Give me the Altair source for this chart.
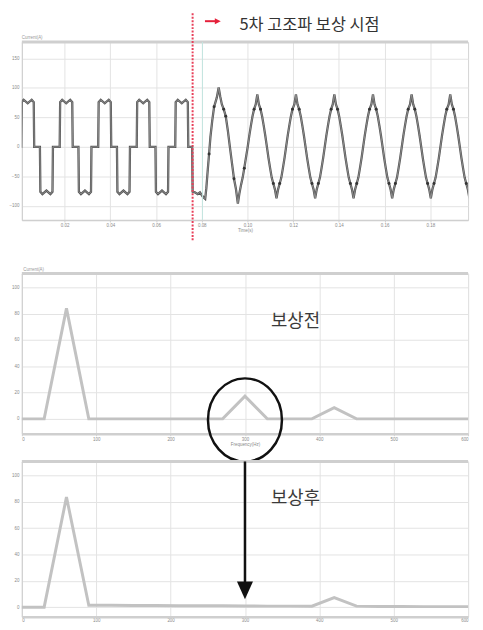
import altair as alt
import pandas as pd

# ---------------- top panel: current waveform (time in ms, current in A) ----------------
pre_t = [0, 1.0, 1.2, 2.1, 3.85, 5.6, 6.5, 6.7, 9.2, 9.4, 10.3, 12.05, 13.8, 14.7, 14.9,
         17.85, 18.05, 18.95, 20.7, 22.45, 23.35, 23.55, 26.05, 26.25, 27.15, 28.9, 30.65, 31.55, 31.75,
         34.7, 34.9, 35.8, 37.55, 39.3, 40.2, 40.4, 42.9, 43.1, 44.0, 45.75, 47.5, 48.4, 48.6,
         51.55, 51.75, 52.65, 54.4, 56.15, 57.05, 57.25, 59.75, 59.95, 60.85, 62.6, 64.35, 65.25, 65.45,
         68.4, 68.6, 69.5, 71.25, 73.0, 73.9, 74.1, 75.8]
pre_v = [0, 0, 76, 80, 74, 80, 76, 0, 0, -76, -80, -74, -80, -76, 0,
         0, 76, 80, 74, 80, 76, 0, 0, -76, -80, -74, -80, -76, 0,
         0, 76, 80, 74, 80, 76, 0, 0, -76, -80, -74, -80, -76, 0,
         0, 76, 80, 74, 80, 76, 0, 0, -76, -80, -74, -80, -76, 0,
         0, 76, 80, 74, 80, 76, 0, 0]

trans_t = [76.0, 77.0, 78.2, 79.2, 80.4, 81.5, 82.0, 82.6, 83.2, 83.8, 84.6, 85.4, 86.6, 87.4, 88.1,
           88.8, 89.6, 90.5, 91.4, 92.3, 93.3, 94.1, 94.9, 95.8, 96.5, 97.2, 97.9, 98.6, 99.3, 100.1,
           100.8, 101.5, 102.2, 102.9, 103.6]
trans_v = [-76, -77, -80, -77, -84, -88, -70, -40, -12, 17, 45, 68, 84, 101, 85,
           72, 64, 52, 28, 0, -30, -54, -70, -96, -78, -64, -52, -36, -19, 0,
           19, 36, 52, 64, 72]

steady_t = [104.3, 105.0, 105.7, 106.4, 107.1, 107.8, 108.5, 109.2, 109.9, 110.6, 111.3, 112.0,
            112.7, 113.4, 114.1, 114.8, 115.5, 116.2, 116.9, 117.6, 118.3, 119.0, 119.7, 120.5,
            121.2, 121.9, 122.6, 123.3, 124.0, 124.7, 125.4, 126.1, 126.8, 127.5, 128.2, 128.9,
            129.6, 130.3, 131.0, 131.7, 132.4, 133.1, 133.8, 134.5, 135.2, 135.9, 136.6, 137.3,
            138.0, 138.7, 139.4, 140.1, 140.8, 141.5, 142.2, 142.9, 143.6, 144.3, 145.0, 145.7,
            146.4, 147.1, 147.8, 148.5, 149.2, 149.9, 150.6, 151.3, 152.0, 152.7, 153.4, 154.2,
            154.9, 155.6, 156.3, 157.0, 157.7, 158.4, 159.1, 159.8, 160.5, 161.2, 161.9, 162.6,
            163.3, 164.0, 164.7, 165.4, 166.1, 166.8, 167.5, 168.2, 168.9, 169.6, 170.3, 171.1,
            171.8, 172.5, 173.2, 173.9, 174.6, 175.3, 176.0, 176.7, 177.4, 178.1, 178.8, 179.5,
            180.2, 180.9, 181.6, 182.3, 183.0, 183.7, 184.4, 185.1, 185.8, 186.5, 187.2, 188.0,
            188.7, 189.4, 190.1, 190.8, 191.5, 192.2, 192.9, 193.6, 194.3, 195.0, 195.7, 196.4,
            197.1]
steady_v = [89, 72, 64, 52, 36, 19, 0, -19, -36, -52, -62, -72,
            -87, -72, -62, -52, -36, -19, 0, 19, 36, 52, 64, 72,
            89, 72, 64, 52, 36, 19, 0, -19, -36, -52, -62, -72,
            -87, -72, -62, -52, -36, -19, 0, 19, 36, 52, 64, 72,
            89, 72, 64, 52, 36, 19, 0, -19, -36, -52, -62, -72,
            -87, -72, -62, -52, -36, -19, 0, 19, 36, 52, 64, 72,
            89, 72, 64, 52, 36, 19, 0, -19, -36, -52, -62, -72,
            -87, -72, -62, -52, -36, -19, 0, 19, 36, 52, 64, 72,
            89, 72, 64, 52, 36, 19, 0, -19, -36, -52, -62, -72,
            -87, -72, -62, -52, -36, -19, 0, 19, 36, 52, 64, 72,
            89, 72, 64, 52, 36, 19, 0, -19, -36, -52, -62, -72,
            -87]

dot_t = [83.2, 85.4, 89.6, 90.5, 94.1, 98.6, 102.9, 105.7, 111.3, 114.1, 119.7, 122.6, 128.2, 131.0,
         136.6, 139.4, 145.0, 147.8, 153.4, 156.3, 161.9, 164.7, 170.3, 173.2, 178.8, 181.6,
         187.2, 190.1, 195.7]
dot_v = [-12, 68, 64, 52, -54, -36, 64, 64, -62, -62, 64, 64, -62, -62,
         64, 64, -62, -62, 64, 64, -62, -62, 64, 64, -62, -62,
         64, 64, -62]

time_domain = [1.3, 196.5]
time_ticks = [20, 40, 60, 80, 100, 120, 140, 160, 180]
amp_ticks = [-100, -50, 0, 50, 100, 150]
amp_domain = [-124, 178]
switch_ms = 76.0
cursor_ms = 80.3

# ---------------- spectra (frequency in Hz) ----------------
freq_hz = [0, 30, 60, 90, 120, 150, 180, 210, 240, 270, 300, 330, 360, 390, 420, 450, 480, 510, 540, 570, 600]
spec_before = [0, 0, 84, 0, 0, 0, 0, 0, 0, 0, 17.3, 0, 0, 0, 8.5, 0, 0, 0, 0, 0, 0]
spec_after = [0, 0, 83.5, 1.5, 1.4, 1.3, 1.2, 1.1, 1.0, 1.0, 0.9, 0.8, 0.8, 0.7, 7.3, 0.8, 0.5, 0.5, 0.4, 0.4, 0.4]
freq_ticks = [0, 100, 200, 300, 400, 500, 600]
mag_ticks = [0, 20, 40, 60, 80, 100]
mag_domain_mid = [-11.3, 110.5]
mag_domain_bot = [-7.3, 110.5]

KFONT = "Noto Sans CJK KR"
one = pd.DataFrame({"k": [0]})

# ---------------- helpers ----------------
def make_enc(chan, scale, axis):
    def f(field=None, datum=None):
        if chan == "x":
            if field is not None:
                return alt.X(field, type="quantitative", scale=scale, axis=axis)
            return alt.XDatum(datum, type="quantitative", scale=scale, axis=axis)
        if field is not None:
            return alt.Y(field, type="quantitative", scale=scale, axis=axis)
        return alt.YDatum(datum, type="quantitative", scale=scale, axis=axis)
    return f

# ---------------- top chart ----------------
tx = make_enc("x", alt.Scale(domain=time_domain, nice=False, zero=False),
              alt.Axis(values=time_ticks, title="Time(s)", grid=True, tickSize=2, labelFlush=True,
                       labelExpr="format(datum.value/1000, '.2f')",
                       labelPadding=1, titlePadding=0, domainWidth=1.5))
ty = make_enc("y", alt.Scale(domain=amp_domain, nice=False, zero=False),
              alt.Axis(values=amp_ticks, title=None, grid=True, ticks=False, labelPadding=3))

df_wave = pd.DataFrame({"t": pre_t + trans_t + steady_t, "v": pre_v + trans_v + steady_v})
df_dots = pd.DataFrame({"t": dot_t, "v": dot_v})

wave_outer = alt.Chart(df_wave).mark_line(color="#555555", strokeWidth=2.3, clip=True).encode(
    x=tx("t"), y=ty("v"))
wave_inner = alt.Chart(df_wave).mark_line(color="#9a9a9a", strokeWidth=0.8, clip=True).encode(
    x=tx("t"), y=ty("v"))
dots = alt.Chart(df_dots).mark_circle(color="#333333", size=9, opacity=1).encode(x=tx("t"), y=ty("v"))
frame_top = alt.Chart(one).mark_rule(color="#cfcfcf", strokeWidth=3).encode(
    x=tx(datum=time_domain[0]), x2=alt.X2Datum(time_domain[1]), y=ty(datum=amp_domain[1]))
cursor = alt.Chart(one).mark_rule(color="#c3e6e0", strokeWidth=1).encode(
    x=tx(datum=cursor_ms), y=ty(datum=amp_domain[1]), y2=alt.Y2Datum(amp_domain[0]))
switch = alt.Chart(one).mark_rule(color="#e8405a", strokeWidth=2, strokeDash=[2, 1.5]).encode(
    x=tx(datum=switch_ms), y=ty(datum=226.6), y2=alt.Y2Datum(-159))
arrow_shaft = alt.Chart(one).mark_rule(color="#e5203a", strokeWidth=2).encode(
    x=tx(datum=81.4), x2=alt.X2Datum(86.0), y=ty(datum=213.2))
arrow_head = alt.Chart(one).mark_point(shape="M -1 -1 L 1 0 L -1 1 Z", size=36, filled=True,
                                       color="#e5203a", opacity=1).encode(x=tx(datum=87.0), y=ty(datum=213.2))
note = alt.Chart(one).mark_text(text="5차 고조파 보상 시점", font=KFONT, fontSize=16.5, color="#333333",
                                align="left", baseline="middle").encode(x=tx(datum=96.5), y=ty(datum=206.5))
unit_top = alt.Chart(one).mark_text(text="Current(A)", fontSize=4.5, color="#999999", align="left",
                                    baseline="middle", font="Liberation Sans").encode(
    x=tx(datum=time_domain[0]), y=ty(datum=185))

top = alt.layer(wave_outer, wave_inner, dots, frame_top, cursor, switch, arrow_shaft, arrow_head,
                note, unit_top).properties(width=451, height=180)

# ---------------- spectrum charts ----------------
def spectrum(values, width, height, mag_domain, label, label_y, circle=False, arrow=False,
             unit=True, bottom=False):
    fx = make_enc("x", alt.Scale(domain=[0, 600], nice=False, zero=False),
                  alt.Axis(values=freq_ticks, title=None if bottom else "Frequency(Hz)", grid=True,
                           tickSize=0 if bottom else 2, labelFlush=True,
                           labelPadding=1, titlePadding=0, domainWidth=2.5))
    fy = make_enc("y", alt.Scale(domain=mag_domain, nice=False, zero=False),
                  alt.Axis(values=mag_ticks, title=None, grid=True, ticks=False, labelPadding=3))
    df = pd.DataFrame({"f": freq_hz, "m": values})
    layers = [
        alt.Chart(df).mark_line(color="#c2c2c2", strokeWidth=3, strokeJoin="miter").encode(
            x=fx("f"), y=fy("m")),
        alt.Chart(one).mark_rule(color="#cfcfcf", strokeWidth=3).encode(
            x=fx(datum=0), x2=alt.X2Datum(600), y=fy(datum=mag_domain[1])),
        alt.Chart(one).mark_text(text=label, font=KFONT, fontSize=18, color="#3a3a3a",
                                 align="center", baseline="middle").encode(
            x=fx(datum=368), y=fy(datum=label_y)),
    ]
    if unit:
        layers.append(alt.Chart(one).mark_text(text="Current(A)", fontSize=4.5, color="#999999",
                                               align="left", baseline="middle",
                                               font="Liberation Sans").encode(
            x=fx(datum=2), y=fy(datum=113.5)))
    if circle:
        layers.append(alt.Chart(one).mark_point(
            shape="M -0.89 0 A 0.89 1 0 1 0 0.89 0 A 0.89 1 0 1 0 -0.89 0 Z",
            size=7056, filled=False, stroke="#111111", strokeWidth=2.5, opacity=1).encode(
            x=fx(datum=300), y=fy(datum=-0.8)))
    if arrow:
        layers.append(alt.Chart(one).mark_rule(color="#111111", strokeWidth=2.5).encode(
            x=fx(datum=300), y=fy(datum=mag_domain[1]), y2=alt.Y2Datum(17.3)))
        layers.append(alt.Chart(one).mark_point(shape="M -0.9 -1 L 0.9 -1 L 0 1 Z", size=324,
                                                filled=True, color="#111111", opacity=1).encode(
            x=fx(datum=300), y=fy(datum=12.8)))
    return alt.layer(*layers).properties(width=width, height=height)

mid = spectrum(spec_before, 451, 162, mag_domain_mid, "보상전", 73.7, circle=True)
bot = spectrum(spec_after, 451, 157, mag_domain_bot, "보상후", 82, arrow=True, unit=False, bottom=True)

chart = alt.vconcat(
    top,
    alt.vconcat(mid, bot, spacing=28, bounds="flush"),
    spacing=54, bounds="flush",
).properties(padding=0, background="white").configure_view(
    stroke="#d4d4d4", strokeWidth=1
).configure_axis(
    labelFont="Liberation Sans", titleFont="Liberation Sans", labelColor="#8a8a8a",
    titleColor="#8a8a8a", labelFontSize=4.5, titleFontSize=4.5, titleFontWeight="normal",
    gridColor="#e3e3e3", domainColor="#cfcfcf", tickColor="#cfcfcf"
)

chart.save("out.html", embed_options={"renderer": "svg", "actions": False})
